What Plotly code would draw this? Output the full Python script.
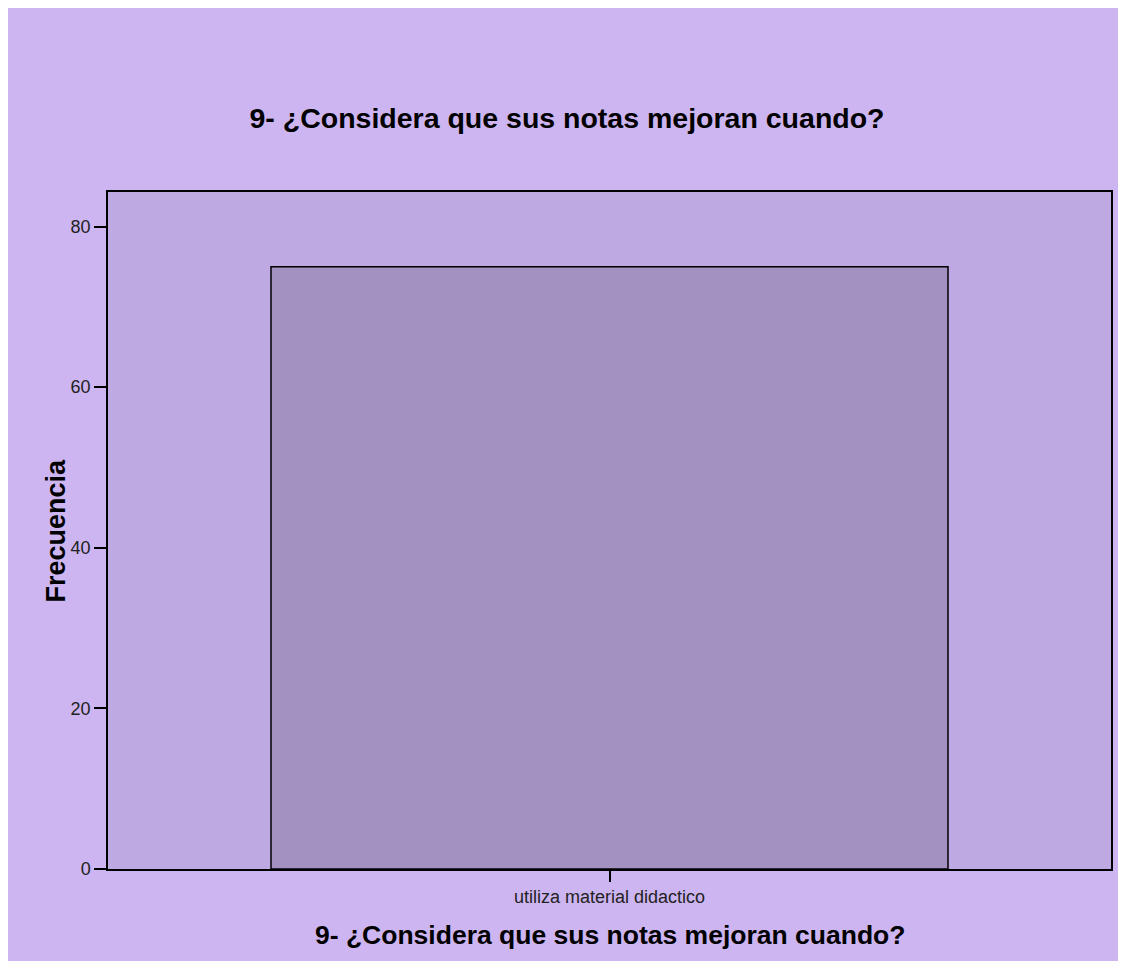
import plotly.graph_objects as go

# Data
categories = ["utiliza material didactico"]
frequencies = [75]
y_ticks = [0, 20, 40, 60, 80]

title_text = "9- ¿Considera que sus notas mejoran cuando?"
y_title = "Frecuencia"

outer_bg = "#CDB5F1"
plot_bg = "#BFA9E3"
bar_color = "#A391C1"

# the page adds an 8px margin around the figure
W, H = 1118, 953
L, R, T, B = 100, 15, 184, 92
pw, ph = W - L - R, H - T - B

fig = go.Figure(go.Bar(
    x=categories,
    y=frequencies,
    width=0.675,
    marker=dict(color=bar_color, line=dict(color="black", width=1.5)),
    hoverinfo="x+y",
))

fig.update_layout(
    width=W, height=H,
    margin=dict(l=L, r=R, t=T, b=B),
    paper_bgcolor=outer_bg,
    plot_bgcolor=plot_bg,
    font=dict(family="Liberation Sans, Arial, sans-serif", color="#222"),
    showlegend=False,
    title=dict(text="<b>" + title_text + "</b>", x=0.5, xanchor="center",
               y=1 - 110 / H, yanchor="middle", yref="container",
               font=dict(size=28.5, color="black")),
    xaxis=dict(
        range=[-0.5, 0.5],
        showline=True, linecolor="black", linewidth=1.5, mirror=True,
        ticks="outside", ticklen=11, tickwidth=2, tickcolor="black",
        tickfont=dict(size=18, color="#222"),
        showgrid=False, zeroline=False,
    ),
    yaxis=dict(
        range=[0, 84.3],
        tickvals=y_ticks,
        showline=True, linecolor="black", linewidth=1.5, mirror=True,
        ticks="outside", ticklen=12, tickwidth=2, tickcolor="black",
        tickfont=dict(size=18, color="#222"),
        showgrid=False, zeroline=False,
    ),
    annotations=[
        dict(text="<b>" + title_text + "</b>", xref="paper", yref="paper",
             x=0.5, y=(861 - 927) / ph, xanchor="center", yanchor="middle",
             showarrow=False, font=dict(size=26.5, color="black")),
        dict(text="<b>" + y_title + "</b>", xref="paper", yref="paper",
             x=(47 - L) / pw, y=0.5, xanchor="center", yanchor="middle",
             textangle=-90, showarrow=False,
             font=dict(size=27, color="black")),
    ],
)

fig.write_html("out.html")
